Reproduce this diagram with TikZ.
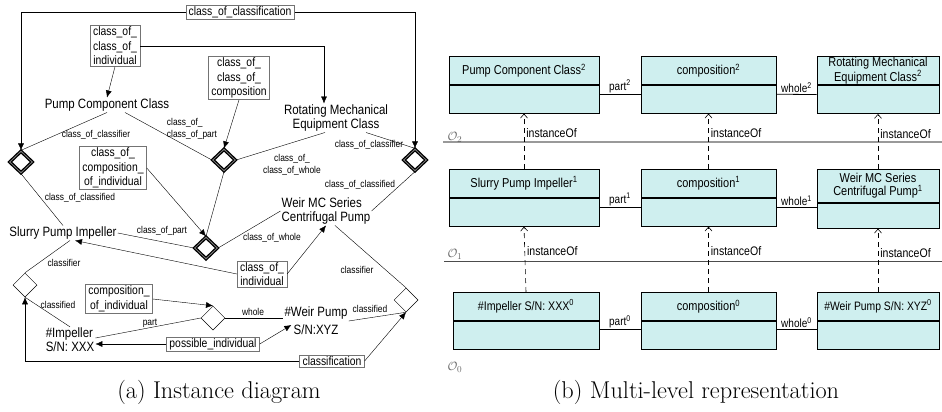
\documentclass[tikz,border=0pt]{standalone}
\usepackage{fontspec}
\usetikzlibrary{shapes.geometric,positioning,arrows.meta}
\newfontfamily\helv[FakeStretch=0.85]{Liberation Sans}
\definecolor{clsfill}{HTML}{CFEFEF}
\begin{document}
\begin{tikzpicture}[x=1pt,y=-1pt,
        box/.style={draw=black!55,fill=white,inner xsep=3pt,inner ysep=1.5pt,align=center,font=\helv\fontsize{12.2}{14.5}\selectfont},
        txt/.style={inner sep=1pt,font=\helv\fontsize{13.5}{14}\selectfont},
        lbl/.style={inner sep=0pt,font=\helv\fontsize{9.9}{12}\selectfont},
        cdiam/.style={diamond,draw,line width=1.3pt,double=gray,double distance=0.8pt,minimum width=23pt,minimum height=22pt,inner sep=0pt},
        idiam/.style={diamond,draw,fill=white,line width=0.5pt,minimum width=24pt,minimum height=24pt,inner sep=0pt},
        arr/.style={-{Latex[length=7pt,width=6pt]}},
        captxt/.style={inner sep=0pt,font=\fontsize{24.3}{29}\selectfont},
        clshead/.style={draw,fill=clsfill,line width=0.8pt,minimum width=#1,minimum height=28pt,inner sep=1pt,align=center,font=\helv\fontsize{12.9}{13}\selectfont},
        clsbody/.style={draw,fill=clsfill,line width=0.8pt,minimum width=#1,minimum height=28pt,inner sep=0pt},
        assoc/.style={line width=0.8pt},
        rlbl/.style={inner sep=1pt,font=\helv\fontsize{11.8}{12}\selectfont},
        inst/.style={dash pattern=on 5pt off 4pt,line width=0.6pt,-{Straight Barb[length=4pt,width=7pt]}},
        ilbl/.style={inner sep=2pt,font=\helv\fontsize{12.4}{12}\selectfont},
        olbl/.style={inner sep=0pt,text=black!60,font=\fontsize{13}{14}\selectfont}]
    \useasboundingbox (0,0) rectangle (942,412);
    %% (a) instance diagram
    \node[box] (cocls) at (240,12) {class\_of\_classification};
    \node[box] (coci) at (115,46) {class\_of\_\\class\_of\_\\individual};
    \node[box] (cocc) at (239,78) {class\_of\_\\class\_of\_\\composition};
    \node[box] (cocoi) at (113,168) {class\_of\_\\composition\_\\of\_individual};
    \node[box] (coi) at (262,274) {class\_of\_\\individual};
    \node[box] (compi) at (119,299) {composition\_\\of\_individual};
    \node[box] (posi) at (213,344) {possible\_individual};
    \node[box] (clsf) at (332,361) {classification};

    \node[txt] (pcc) at (107,105) {Pump Component Class};
    \node[txt,align=center] (rmec) at (336,118) {Rotating Mechanical\\Equipment Class};
    \node[txt,align=left] (weir) at (326,211) {Weir MC Series\\Centrifugal Pump};
    \node[txt] (spi) at (63,233) {Slurry Pump Impeller};
    \node[txt,align=left] (imp) at (70,340) {\#Impeller\\S/N: XXX};
    \node[txt,align=center,font=\helv\fontsize{13.5}{18}\selectfont] (wp) at (316,321) {\#Weir Pump\\S/N:XYZ};

    \node[cdiam] (dpcc) at (21,162) {};
    \node[cdiam] (dcomp) at (224,160) {};
    \node[cdiam] (dcompi) at (206,248) {};
    \node[cdiam] (drmec) at (415,160) {};
    \node[idiam] (dimp) at (25,285) {};
    \node[idiam] (dpart) at (213,318) {};
    \node[idiam] (dwp) at (406,300) {};

    %% classes of classes
    \draw[arr] (cocls.west) -| (dpcc.north);
    \draw[arr] (cocls.east) -| (drmec.north);
    \draw[arr] (coci.east) -| ([xshift=-12pt]rmec.north);
    \draw[arr] (coci.south) -- (pcc.north);
    \draw (pcc.south) -- (dpcc.north);
    \draw ([xshift=18pt]pcc.south) -- (dcomp.west);
    \draw[arr] (cocc.south) -- (dcomp.north);
    \draw (dcomp.east) -- ([xshift=-11pt]rmec.south);
    \draw (dcomp.south) -- (dcompi.north);
    \draw[arr] (cocoi.east) -- (dcompi.north);
    \draw ([xshift=30pt]rmec.south) -- (drmec.north);
    \draw (drmec.south) -- (weir.east);
    \draw (dpcc.south) -- (spi.north);
    \draw (spi.east) -- (dcompi.west);
    \draw (dcompi.east) -- (weir.west);
    \draw[arr] (coi.west) -- ([xshift=12pt]spi.south);
    \draw[arr] (coi.east) -- (weir.south);

    %% individuals
    \draw ([xshift=7pt]spi.south) -- (dimp.north);
    \draw (dimp.south) -- (imp.north);
    \draw[arr] (clsf.west) -| (dimp.south);
    \draw[arr] (clsf.east) -- (dwp.south);
    \draw (wp.east) -- (dwp.south);
    \draw ([xshift=9pt]weir.south) -- (dwp.north);
    \draw[arr] (compi.east) -- (dpart.north);
    \draw (dpart.west) -- ([yshift=2pt]imp.east);
    \draw[arr] (posi.west) -- (posi.west -| imp.east);
    \draw (dpart.east) -- (dpart.east -| wp.west);
    \draw[arr] (posi.east) -- ([xshift=8pt,yshift=-4pt]wp.west);

    \node[lbl] (l1) at (96,135) {class\_of\_classifier};
    \node[lbl,align=left] (l2) at (192,129) {class\_of\_\\class\_of\_part};
    \node[lbl,align=center] (l3) at (292,165) {class\_of\_\\class\_of\_whole};
    \node[lbl] (l4) at (369,145) {class\_of\_classifier};
    \node[lbl] (l5) at (360,185) {class\_of\_classified};
    \node[lbl] (l6) at (80,198) {class\_of\_classified};
    \node[lbl] (l7) at (162,231) {class\_of\_part};
    \node[lbl] (l8) at (272,238) {class\_of\_whole};
    \node[lbl] (l9) at (64,263) {classifier};
    \node[lbl] (l10) at (58,305) {classified};
    \node[lbl] (l11) at (150,323) {part};
    \node[lbl] (l12) at (253,312) {whole};
    \node[lbl] (l13) at (357,270) {classifier};
    \node[lbl] (l14) at (370,309) {classified};

    \node[captxt] (capa) at (219,392) {(a) Instance diagram};

    %% (b) multi-level representation
    \draw[black!40,line width=1.5pt] (443,142) -- (942,142);
    \draw[black!70,line width=0.9pt] (444,261) -- (942,261);
    \node[olbl] (o2) at (455,137) {$\mathcal{O}_2$};
    \node[olbl] (o1) at (455,254) {$\mathcal{O}_1$};
    \node[olbl] (o0) at (455,367) {$\mathcal{O}_0$};

    %% level 2
    \node[clshead=150pt,anchor=north] (pcc2) at (524,56) {Pump Component Class\textsuperscript{2}};
    \node[clsbody=150pt,below=0pt of pcc2] (pcc2b) {};
    \node[clshead=135pt,anchor=north] (comp2) at (708.5,56) {composition\textsuperscript{2}};
    \node[clsbody=135pt,below=0pt of comp2] (comp2b) {};
    \node[clshead=122pt,anchor=north] (rmec2) at (878,56) {Rotating Mechanical\\Equipment Class\textsuperscript{2}};
    \node[clsbody=122pt,below=0pt of rmec2] (rmec2b) {};
    %% level 1
    \node[clshead=150pt,anchor=north] (spi1) at (524,169) {Slurry Pump Impeller\textsuperscript{1}};
    \node[clsbody=150pt,below=0pt of spi1] (spi1b) {};
    \node[clshead=135pt,anchor=north] (comp1) at (708.5,169) {composition\textsuperscript{1}};
    \node[clsbody=135pt,below=0pt of comp1] (comp1b) {};
    \node[clshead=122pt,anchor=north,minimum height=33pt] (weir1) at (878,169) {Weir MC Series\\Centrifugal Pump\textsuperscript{1}};
    \node[clsbody=122pt,below=0pt of weir1,minimum height=25pt] (weir1b) {};
    %% level 0
    \node[clshead=146pt,anchor=north,font=\helv\fontsize{12.5}{13}\selectfont] (imp0) at (526,292) {\#Impeller S/N: XXX\textsuperscript{0}};
    \node[clsbody=146pt,below=0pt of imp0] (imp0b) {};
    \node[clshead=135pt,anchor=north] (comp0) at (708.5,292) {composition\textsuperscript{0}};
    \node[clsbody=135pt,below=0pt of comp0] (comp0b) {};
    \node[clshead=122pt,anchor=north,font=\helv\fontsize{12.2}{13}\selectfont] (wp0) at (878,292) {\#Weir Pump S/N: XYZ\textsuperscript{0}};
    \node[clsbody=122pt,below=0pt of wp0] (wp0b) {};

    %% part / whole
    \draw[assoc] ([yshift=5pt]pcc2b.east) -- node[rlbl,above]{part\textsuperscript{2}} ([yshift=5pt]comp2b.west);
    \draw[assoc] ([yshift=5pt]comp2b.east) -- node[rlbl,above]{whole\textsuperscript{2}} ([yshift=5pt]rmec2b.west);
    \draw[assoc] ([yshift=5pt]spi1b.east) -- node[rlbl,above]{part\textsuperscript{1}} ([yshift=5pt]comp1b.west);
    \draw[assoc] ([yshift=5pt]comp1b.east) -- node[rlbl,above]{whole\textsuperscript{1}} ([yshift=5pt]comp1b.east -| weir1b.west);
    \draw[assoc] ([yshift=6pt]imp0b.east) -- node[rlbl,above]{part\textsuperscript{0}} ([yshift=6pt]comp0b.west);
    \draw[assoc] ([yshift=6pt]comp0b.east) -- node[rlbl,above]{whole\textsuperscript{0}} ([yshift=6pt]wp0b.west);

    %% instanceOf
    \draw[inst] (spi1.north) -- node[ilbl,pos=0.64,right]{instanceOf} (pcc2b.south);
    \draw[inst] (comp1.north) -- node[ilbl,pos=0.64,right]{instanceOf} (comp2b.south);
    \draw[inst] (weir1.north) -- node[ilbl,pos=0.64,right]{instanceOf} (rmec2b.south);
    \draw[inst] (imp0.north) -- node[ilbl,pos=0.62,right]{instanceOf} (spi1b.south);
    \draw[inst] (comp0.north) -- node[ilbl,pos=0.62,right]{instanceOf} (comp1b.south);
    \draw[inst] (wp0.north) -- node[ilbl,pos=0.62,right]{instanceOf} (weir1b.south);

    \node[captxt] (capb) at (696,392) {(b) Multi-level representation};
\end{tikzpicture}
\end{document}
